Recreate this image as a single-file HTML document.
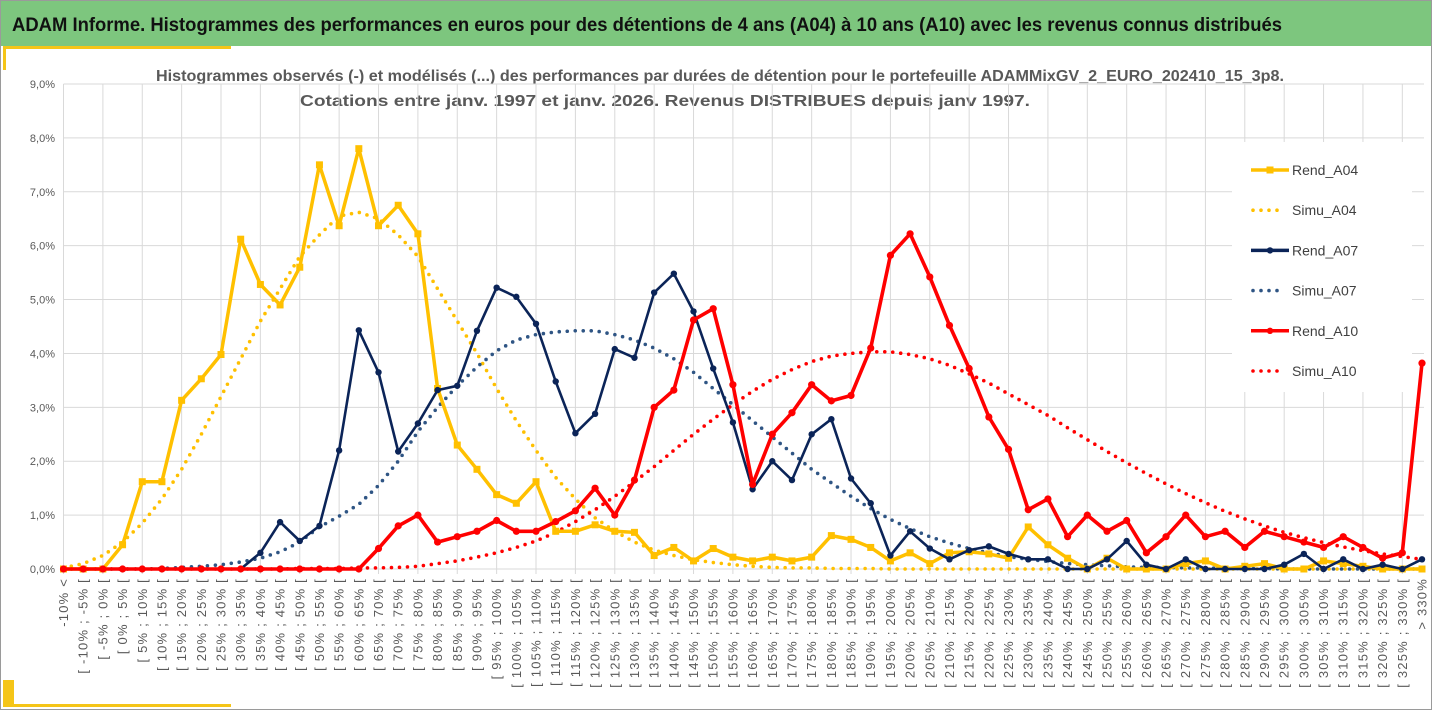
<!DOCTYPE html>
<html><head><meta charset="utf-8"><style>
body{margin:0;background:#fff;}
svg{display:block;font-family:"Liberation Sans",sans-serif;}
</style></head><body>
<svg id="chart" width="1432" height="710" viewBox="0 0 1432 710">
<rect x="0.5" y="0.5" width="1431" height="709" fill="#fff" stroke="#9a9a9a"/>
<rect x="1" y="1" width="1430" height="45" fill="#7dc67e"/>
<text x="12" y="31" font-size="19" font-weight="bold" fill="#111" textLength="1270" lengthAdjust="spacingAndGlyphs">ADAM Informe. Histogrammes des performances en euros pour des détentions de 4 ans (A04) à 10 ans (A10) avec les revenus connus distribués</text>
<rect x="3" y="46" width="228" height="3" fill="#f5c518"/>
<rect x="3" y="46" width="3" height="24" fill="#f5c518"/>
<rect x="3" y="704" width="228" height="3" fill="#f5c518"/>
<rect x="3" y="680" width="11" height="27" fill="#f5c518"/>
<text x="720" y="81" font-size="15.5" font-weight="bold" fill="#595959" text-anchor="middle" textLength="1128" lengthAdjust="spacingAndGlyphs">Histogrammes observés (-) et modélisés (...) des performances par durées de détention pour  le portefeuille ADAMMixGV_2_EURO_202410_15_3p8.</text>
<text x="665" y="106" font-size="15.5" font-weight="bold" fill="#595959" text-anchor="middle" textLength="730" lengthAdjust="spacingAndGlyphs">Cotations  entre janv. 1997 et janv. 2026. Revenus DISTRIBUES depuis janv 1997.</text>
<g id="grid"></g>
<g id="yaxis"></g>
<g id="xaxis"></g>
<g id="series"></g>
<g id="legend"></g>
</svg>
<script>
const yTicks = [0,1,2,3,4,5,6,7,8,9];
const yTickLabels = ["0,0%","1,0%","2,0%","3,0%","4,0%","5,0%","6,0%","7,0%","8,0%","9,0%"];
const binStarts = [];
for (let s = -10; s <= 325; s += 5) binStarts.push(s);
const categories = ["-10% <"].concat(binStarts.map(s => "[ " + s + "% ; " + (s + 5) + "% [")).concat(["> 330%"]);

const rendA04 = [0,0,0,0.45,1.62,1.62,3.13,3.53,3.98,6.12,5.28,4.9,5.6,7.5,6.37,7.8,6.37,6.75,6.22,3.35,2.3,1.85,1.38,1.22,1.62,0.7,0.7,0.82,0.7,0.68,0.25,0.4,0.15,0.38,0.22,0.15,0.22,0.15,0.22,0.62,0.55,0.4,0.15,0.3,0.1,0.3,0.32,0.28,0.2,0.78,0.45,0.2,0,0.2,0,0,0,0.1,0.15,0,0.05,0.1,0,0,0.15,0.1,0.05,0,0,0];
const simuA04 = [0.02,0.1,0.25,0.5,0.85,1.3,1.85,2.5,3.2,3.9,4.6,5.2,5.8,6.2,6.55,6.62,6.5,6.2,5.8,5.2,4.6,4.0,3.35,2.75,2.2,1.7,1.3,0.95,0.7,0.5,0.35,0.25,0.17,0.12,0.08,0.05,0.03,0.02,0.02,0.01,0.01,0.01,0,0,0,0,0,0,0,0,0,0,0,0,0,0,0,0,0,0,0,0,0,0,0,0,0,0,0,0];
const rendA07 = [0,0,0,0,0,0,0,0,0,0,0.3,0.87,0.52,0.8,2.2,4.43,3.65,2.18,2.7,3.32,3.4,4.42,5.22,5.05,4.55,3.48,2.52,2.88,4.08,3.92,5.13,5.48,4.78,3.72,2.72,1.48,2.0,1.65,2.5,2.78,1.68,1.22,0.25,0.7,0.38,0.18,0.35,0.42,0.28,0.18,0.18,0,0,0.18,0.52,0.08,0,0.18,0,0,0,0,0.08,0.28,0,0.18,0,0.08,0,0.18];
const simuA07 = [0,0,0,0,0,0.01,0.03,0.05,0.08,0.13,0.2,0.32,0.5,0.78,0.98,1.2,1.55,2.0,2.55,3.0,3.4,3.75,4.05,4.25,4.35,4.4,4.42,4.42,4.35,4.25,4.1,3.9,3.65,3.35,3.05,2.75,2.45,2.15,1.85,1.6,1.35,1.12,0.92,0.75,0.6,0.48,0.38,0.3,0.23,0.18,0.14,0.1,0.08,0.06,0.04,0.03,0.03,0.02,0.02,0.01,0.01,0.01,0,0,0,0,0,0,0,0];
const rendA10 = [0,0,0,0,0,0,0,0,0,0,0,0,0,0,0,0,0.38,0.8,1.0,0.5,0.6,0.7,0.9,0.7,0.7,0.88,1.08,1.5,1.0,1.65,3.0,3.32,4.62,4.83,3.42,1.57,2.5,2.9,3.42,3.12,3.22,4.1,5.82,6.22,5.42,4.52,3.72,2.82,2.22,1.1,1.3,0.6,1.0,0.7,0.9,0.3,0.6,1.0,0.6,0.7,0.4,0.7,0.6,0.5,0.4,0.6,0.4,0.2,0.3,3.82];
const simuA10 = [0,0,0,0,0,0,0,0,0,0,0,0,0.01,0.01,0.01,0.02,0.02,0.03,0.05,0.1,0.15,0.22,0.3,0.4,0.52,0.68,0.88,1.1,1.35,1.62,1.9,2.2,2.5,2.78,3.05,3.3,3.52,3.7,3.85,3.95,4.0,4.03,4.03,3.98,3.9,3.78,3.62,3.45,3.25,3.05,2.85,2.62,2.4,2.18,1.97,1.77,1.58,1.4,1.23,1.07,0.93,0.8,0.68,0.58,0.49,0.41,0.34,0.28,0.23,0.18];

const NS = "http://www.w3.org/2000/svg";
const X0 = 63.5, X1 = 1422, Y0 = 569, YTOP = 84, YMAX = 9;
const xs = i => X0 + i * (X1 - X0) / (categories.length - 1);
const ys = v => Y0 - v * (Y0 - YTOP) / YMAX;
function mk(tag, attrs, parent) {
  const e = document.createElementNS(NS, tag);
  for (const k in attrs) e.setAttribute(k, attrs[k]);
  parent.appendChild(e);
  return e;
}
const grid = document.getElementById("grid");
const yaxis = document.getElementById("yaxis");
const xaxis = document.getElementById("xaxis");
yTicks.forEach((t, k) => {
  const l = mk("line", {x1: X0, x2: 1424, y1: ys(t), y2: ys(t), stroke: "#d9d9d9", "stroke-width": 1}, grid);
  
  
  const tx = mk("text", {x: 55, y: ys(t) + 4, "font-size": 11, fill: "#595959", "text-anchor": "end"}, yaxis);
  tx.textContent = yTickLabels[k];
  
  
});
categories.forEach((c, i) => {
  if (i % 2 === 0) {
    const l = mk("line", {x1: xs(i), x2: xs(i), y1: YTOP, y2: Y0 + 5, stroke: "#d9d9d9", "stroke-width": 1}, grid);
    
    
  }
  const tx = mk("text", {x: 0, y: 0, "font-size": 13, "letter-spacing": 1.2, fill: "#595959", "text-anchor": "end", transform: "translate(" + (xs(i) + 4.5) + ",578) rotate(-90)"}, xaxis);
  tx.textContent = c;
  
  
});
const series = document.getElementById("series");
function pathD(vals) { return vals.map((v, i) => (i ? "L" : "M") + xs(i).toFixed(1) + "," + ys(v).toFixed(1)).join(""); }
function dotted(vals, color, name) {
  const p = mk("path", {d: pathD(vals), fill: "none", stroke: color, "stroke-width": 3.6, "stroke-linecap": "round", "stroke-dasharray": "0 8"}, series);
  
  
}
function solid(vals, color, w, marker, name) {
  const g = mk("g", {}, series);
  
  
  mk("path", {d: pathD(vals), fill: "none", stroke: color, "stroke-width": w, "stroke-linejoin": "round"}, g);
  vals.forEach((v, i) => {
    let m;
    if (marker === "sq") m = mk("rect", {x: xs(i) - 3.5, y: ys(v) - 3.5, width: 7, height: 7, fill: color}, g);
    else m = mk("circle", {cx: xs(i), cy: ys(v), r: marker, fill: color}, g);
    
    
  });
}
dotted(simuA04, "#FFC000", "simu-a04-line");
dotted(simuA07, "#2f5584", "simu-a07-line");
dotted(simuA10, "#FF0000", "simu-a10-line");
solid(rendA04, "#FFC000", 3.5, "sq", "rend-a04-line");
solid(rendA07, "#0b2458", 2.6, 3.2, "rend-a07-line");
solid(rendA10, "#FF0000", 3.6, 3.6, "rend-a10-line");

const legend = document.getElementById("legend");
const lbg = mk("rect", {x: 1232, y: 142, width: 180, height: 250, fill: "#fff"}, legend);


const legNames = ["Rend_A04","Simu_A04","Rend_A07","Simu_A07","Rend_A10","Simu_A10"];
const legColors = ["#FFC000","#FFC000","#0b2458","#2f5584","#FF0000","#FF0000"];
legNames.forEach((n, k) => {
  const y = 170 + k * 40.2;
  const g = mk("g", {}, legend);
  
  
  if (k % 2 === 0) {
    mk("line", {x1: 1251, x2: 1289, y1: y, y2: y, stroke: legColors[k], "stroke-width": 3.5}, g);
    if (k === 0) mk("rect", {x: 1266.5, y: y - 3.5, width: 7, height: 7, fill: legColors[k]}, g);
    else mk("circle", {cx: 1270, cy: y, r: 3.2, fill: legColors[k]}, g);
  } else {
    mk("line", {x1: 1253, x2: 1284, y1: y, y2: y, stroke: legColors[k], "stroke-width": 3.6, "stroke-linecap": "round", "stroke-dasharray": "0 8"}, g);
  }
  const t = mk("text", {x: 1292, y: y + 5, "font-size": 14, fill: "#404040"}, g);
  t.textContent = n;
});
</script>
</body></html>
